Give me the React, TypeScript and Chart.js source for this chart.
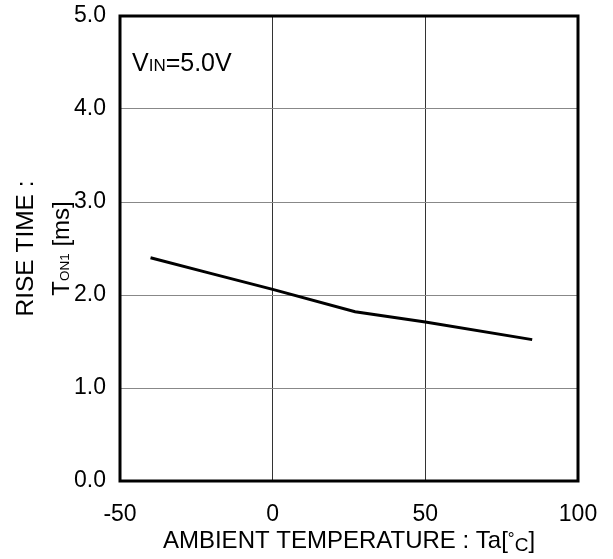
import React, { useEffect, useRef } from 'react';
import { Chart, registerables } from 'chart.js';

Chart.register(...registerables);

const temperatures = [-40, -20, 0, 27, 50, 85];
const riseTimes = [2.4, 2.23, 2.06, 1.82, 1.71, 1.52];
const xTickValues = [-50, 0, 50, 100];
const yTickValues = [0, 1, 2, 3, 4, 5];

const FONT = '"Liberation Sans", Arial, sans-serif';

type Seg = { text: string; size: number; dy?: number };

const xTitleSegs: Seg[] = [
  { text: 'AMBIENT TEMPERATURE : Ta[', size: 24 },
  { text: '°', size: 17, dy: -4 },
  { text: 'C', size: 19, dy: 3 },
  { text: ']', size: 24 },
];
const yTitleLine1: Seg[] = [{ text: 'RISE TIME :', size: 24.5 }];
const yTitleLine2: Seg[] = [
  { text: 'T', size: 24 },
  { text: 'ON1', size: 13.5 },
  { text: ' [ms]', size: 24 },
];
const annotationSegs: Seg[] = [
  { text: 'V', size: 25 },
  { text: 'IN', size: 17 },
  { text: '=5.0V', size: 25 },
];

function drawSegs(ctx: CanvasRenderingContext2D, segs: Seg[], x: number, y: number, align: 'left' | 'center') {
  let total = 0;
  for (const s of segs) {
    ctx.font = `${s.size}px ${FONT}`;
    total += ctx.measureText(s.text).width;
  }
  let cx = align === 'center' ? x - total / 2 : x;
  ctx.textAlign = 'left';
  ctx.textBaseline = 'alphabetic';
  for (const s of segs) {
    ctx.font = `${s.size}px ${FONT}`;
    ctx.fillText(s.text, cx, y + (s.dy || 0));
    cx += ctx.measureText(s.text).width;
  }
}

const decorPlugin = {
  id: 'decor',
  afterDraw(chart: any) {
    const { ctx, chartArea } = chart;
    const { left, top, right, bottom } = chartArea;
    ctx.save();
    ctx.strokeStyle = '#000';
    ctx.lineWidth = 3;
    ctx.strokeRect(left, top, right - left, bottom - top);
    ctx.fillStyle = '#000';
    // annotation
    drawSegs(ctx, annotationSegs, left + 12, top + 55, 'left');
    // x title
    drawSegs(ctx, xTitleSegs, (left + right) / 2, 548, 'center');
    // y title
    const cy = (top + bottom) / 2;
    ctx.save();
    ctx.translate(33, cy);
    ctx.rotate(-Math.PI / 2);
    drawSegs(ctx, yTitleLine1, 0, 0, 'center');
    ctx.restore();
    ctx.save();
    ctx.translate(69, cy);
    ctx.rotate(-Math.PI / 2);
    drawSegs(ctx, yTitleLine2, 0, 0, 'center');
    ctx.restore();
    ctx.restore();
  },
};

export default function App() {
  const ref = useRef<HTMLCanvasElement | null>(null);
  useEffect(() => {
    if (!ref.current) return;
    const chart = new Chart(ref.current, {
      type: 'line',
      data: {
        datasets: [
          {
            data: temperatures.map((t, i) => ({ x: t, y: riseTimes[i] })),
            borderColor: '#000',
            borderWidth: 3,
            pointRadius: 0,
            tension: 0,
            fill: false,
          },
        ],
      },
      options: {
        responsive: false,
        animation: false,
        events: [],
        layout: { autoPadding: false, padding: { left: 0, top: 16, right: 35, bottom: 0 } },
        plugins: { legend: { display: false }, tooltip: { enabled: false } },
        scales: {
          x: {
            type: 'linear',
            min: -50,
            max: 100,
            afterFit: (s: any) => {
              s.height = 78;
              s.paddingLeft = 0;
              s.paddingRight = 0;
              s.paddingTop = 0;
              s.paddingBottom = 0;
            },
            afterBuildTicks: (s: any) => {
              s.ticks = xTickValues.map((v) => ({ value: v }));
            },
            ticks: {
              color: '#000',
              font: { family: FONT, size: 23 },
              padding: 20,
              autoSkip: false,
              maxRotation: 0,
              callback: (v: any) => String(v),
            },
            grid: { color: '#333', lineWidth: 1, drawTicks: false },
            border: { display: false },
          },
          y: {
            type: 'linear',
            min: 0,
            max: 5,
            afterFit: (s: any) => {
              s.width = 120;
              s.paddingLeft = 0;
              s.paddingRight = 0;
              s.paddingTop = 0;
              s.paddingBottom = 0;
            },
            afterBuildTicks: (s: any) => {
              s.ticks = yTickValues.map((v) => ({ value: v }));
            },
            ticks: {
              color: '#000',
              font: { family: FONT, size: 23 },
              padding: 14,
              autoSkip: false,
              callback: (v: any) => Number(v).toFixed(1),
            },
            grid: { color: '#888', lineWidth: 1, drawTicks: false },
            border: { display: false },
          },
        },
      },
      plugins: [decorPlugin],
    } as any);
    return () => chart.destroy();
  }, []);
  return (
    <div style={{ position: 'absolute', left: 0, top: 0, width: 613, height: 559, background: '#fff' }}>
      <canvas ref={ref} width={613} height={559} style={{ display: 'block' }} />
    </div>
  );
}
